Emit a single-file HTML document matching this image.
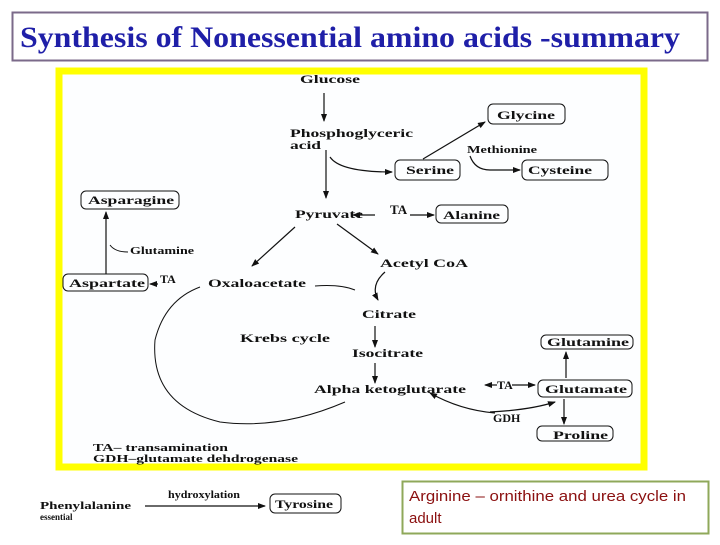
<!DOCTYPE html>
<html><head><meta charset="utf-8"><style>
body{margin:0;width:720px;height:540px;background:#fff;overflow:hidden}
svg text{font-family:"Liberation Serif",serif;font-weight:bold;fill:#111}
</style></head><body>
<svg width="720" height="540" viewBox="0 0 720 540" xmlns="http://www.w3.org/2000/svg">
<defs><marker id="a" markerWidth="8" markerHeight="8" refX="7" refY="4" orient="auto" markerUnits="userSpaceOnUse"><path d="M0,1 L8,4 L0,7 Z" fill="#111"/></marker></defs>
<rect x="12.5" y="12.5" width="695" height="48" fill="#fff" stroke="#7b6a8a" stroke-width="2"/>
<text x="20" y="47" font-size="30" textLength="660" lengthAdjust="spacingAndGlyphs" style="fill:#1f1fa8">Synthesis of Nonessential amino acids -summary</text>
<rect x="59" y="71" width="585" height="396" fill="#fdfeff" stroke="#ffff00" stroke-width="7"/>
<g font-size="12">
<text x="300" y="83" textLength="60" lengthAdjust="spacingAndGlyphs">Glucose</text>
<text x="290" y="137" textLength="123" lengthAdjust="spacingAndGlyphs">Phosphoglyceric</text>
<text x="290" y="149" textLength="31" lengthAdjust="spacingAndGlyphs">acid</text>
<text x="295" y="218" textLength="68" lengthAdjust="spacingAndGlyphs">Pyruvate</text>
<text x="390" y="214" font-size="13">TA</text>
<text x="380" y="267" textLength="88" lengthAdjust="spacingAndGlyphs">Acetyl CoA</text>
<text x="208" y="287" textLength="98" lengthAdjust="spacingAndGlyphs">Oxaloacetate</text>
<text x="160" y="283">TA</text>
<text x="362" y="318" textLength="54" lengthAdjust="spacingAndGlyphs">Citrate</text>
<text x="240" y="342" textLength="90" lengthAdjust="spacingAndGlyphs">Krebs cycle</text>
<text x="352" y="357" textLength="71" lengthAdjust="spacingAndGlyphs">Isocitrate</text>
<text x="314" y="393" textLength="152" lengthAdjust="spacingAndGlyphs">Alpha ketoglutarate</text>
<text x="497" y="389">TA</text>
<text x="493" y="422" font-weight="normal">GDH</text>
<text x="467" y="153" font-size="11" font-weight="normal" textLength="70" lengthAdjust="spacingAndGlyphs">Methionine</text>
<text x="130" y="254" font-size="11" font-weight="normal" textLength="64" lengthAdjust="spacingAndGlyphs">Glutamine</text>
<text x="93" y="451" font-size="11" textLength="135" lengthAdjust="spacingAndGlyphs">TA– transamination</text>
<text x="93" y="462" font-size="11" textLength="205" lengthAdjust="spacingAndGlyphs">GDH–glutamate dehdrogenase</text>
</g>
<g fill="none" stroke="#111" stroke-width="1">
<rect x="488" y="104" width="77" height="20" rx="5"/>
<rect x="395" y="160" width="65" height="20" rx="5"/>
<rect x="522" y="160" width="86" height="20" rx="5"/>
<rect x="436" y="205" width="72" height="18" rx="5"/>
<rect x="81" y="191" width="98" height="18" rx="5"/>
<rect x="63" y="274" width="85" height="17" rx="5"/>
<rect x="541" y="335" width="92" height="14" rx="5"/>
<rect x="538" y="380" width="94" height="17" rx="5"/>
<rect x="537" y="426" width="76" height="15" rx="5"/>
<rect x="270" y="494" width="71" height="19" rx="5"/>
</g>
<g font-size="12">
<text x="497" y="119" textLength="58" lengthAdjust="spacingAndGlyphs">Glycine</text>
<text x="406" y="174" textLength="48" lengthAdjust="spacingAndGlyphs">Serine</text>
<text x="528" y="174" textLength="64" lengthAdjust="spacingAndGlyphs">Cysteine</text>
<text x="443" y="219" textLength="57" lengthAdjust="spacingAndGlyphs">Alanine</text>
<text x="88" y="204" textLength="86" lengthAdjust="spacingAndGlyphs">Asparagine</text>
<text x="69" y="287" textLength="76" lengthAdjust="spacingAndGlyphs">Aspartate</text>
<text x="547" y="346" textLength="82" lengthAdjust="spacingAndGlyphs">Glutamine</text>
<text x="545" y="393" textLength="82" lengthAdjust="spacingAndGlyphs">Glutamate</text>
<text x="553" y="439" textLength="55" lengthAdjust="spacingAndGlyphs">Proline</text>
<text x="275" y="508" textLength="58" lengthAdjust="spacingAndGlyphs">Tyrosine</text>
<text x="40" y="509" font-size="11" textLength="91" lengthAdjust="spacingAndGlyphs">Phenylalanine</text>
<text x="40" y="520" font-size="9" font-weight="normal">essential</text>
<text x="168" y="498" font-size="10" font-weight="normal" textLength="72" lengthAdjust="spacingAndGlyphs">hydroxylation</text>
</g>
<g fill="none" stroke="#111" stroke-width="1.2" marker-end="url(#a)">
<path d="M324,93 V121"/>
<path d="M326,150 V198"/>
<path d="M330,157 Q340,172 392,172"/>
<path d="M423,159 L485,122"/>
<path d="M470,156 Q475,170 490,170 L520,170"/>
<path d="M375,215 H353"/>
<path d="M410,215 H434"/>
<path d="M337,224 L378,254"/>
<path d="M295,227 L252,266"/>
<path d="M106,274 V212"/>
<path d="M385,272 Q370,285 378,300"/>
<path d="M375,326 V347"/>
<path d="M375,363 V383"/>
<path d="M497,385 H485"/>
<path d="M512,385 H535"/>
<path d="M566,378 V352"/>
<path d="M564,399 V424"/>
<path d="M490,412 Q530,410 555,402"/>
<path d="M495,413 Q460,410 430,393"/>
<path d="M145,506 H265"/>
<path d="M158,284 H150"/>
</g>
<g fill="none" stroke="#111" stroke-width="1">
<path d="M110,245 Q115,252 128,252"/>
<path d="M315,286 Q340,284 355,290"/>
<path d="M345,402 Q280,430 220,422 Q150,405 155,340 Q165,300 200,287"/>
</g>
<rect x="402.5" y="481.5" width="306" height="52" fill="#fff" stroke="#8fa85a" stroke-width="2"/>
<text x="409" y="501" font-size="15" textLength="277" lengthAdjust="spacingAndGlyphs" style="font-family:'Liberation Sans',sans-serif;font-weight:normal;fill:#8b1010">Arginine – ornithine  and urea cycle in</text>
<text x="409" y="523" font-size="15" style="font-family:'Liberation Sans',sans-serif;font-weight:normal;fill:#8b1010">adult</text>
</svg>
</body></html>
